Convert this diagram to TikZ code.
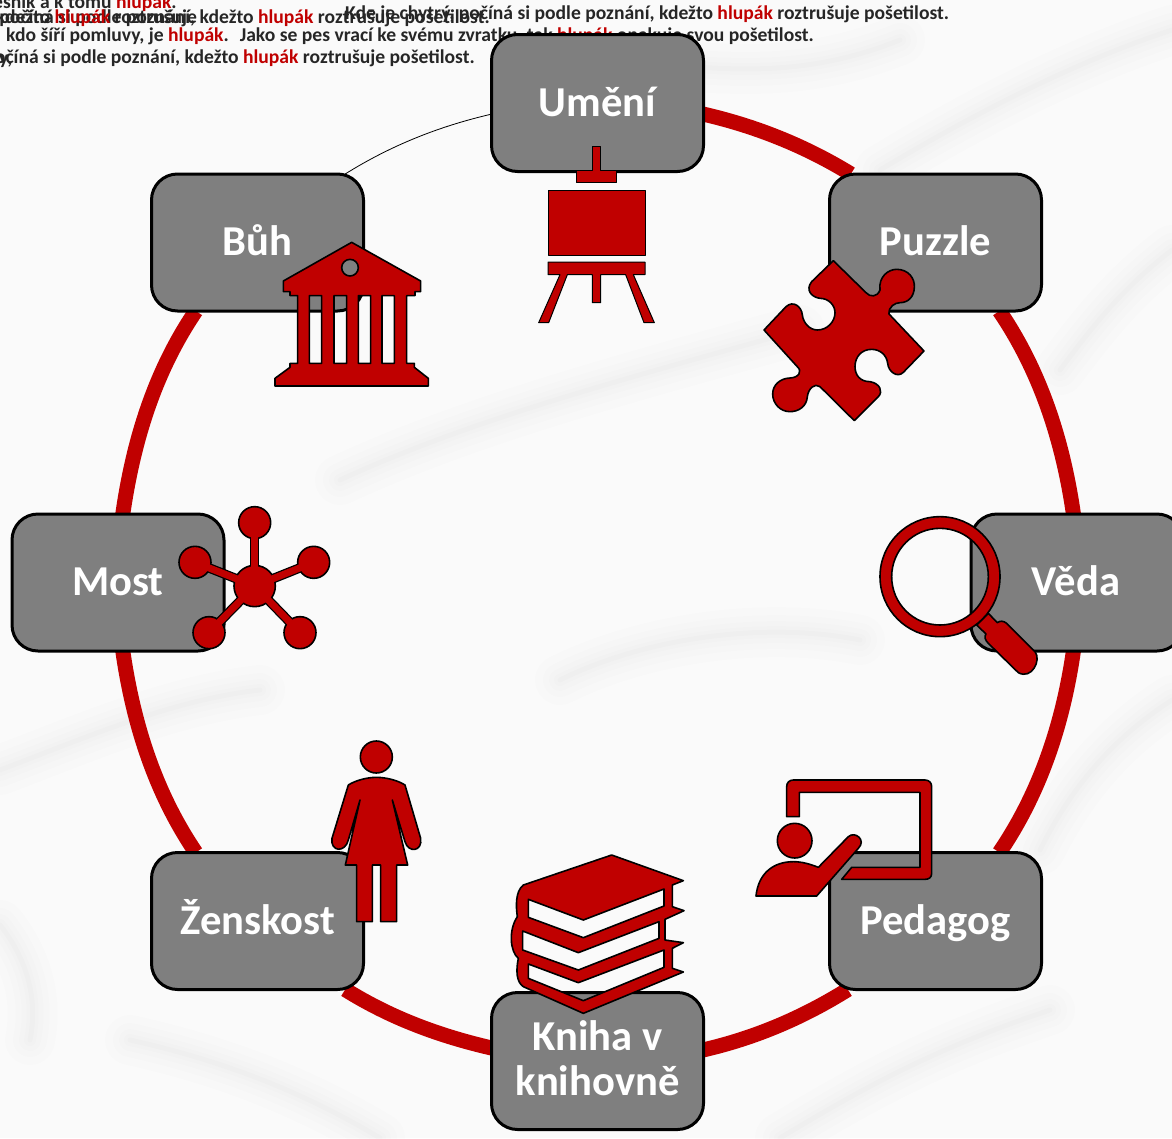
\documentclass[tikz,border=0pt]{standalone}
\usepackage{fontspec}
\setmainfont{Carlito}
\usetikzlibrary{backgrounds}
\definecolor{ruby}{HTML}{C00000}
\definecolor{slab}{HTML}{7F7F7F}
\definecolor{inktext}{HTML}{262626}
\tikzset{
  tile/.style={draw=black,fill=slab,line width=3pt,rounded corners=26pt,minimum width=212pt,minimum height=137pt,inner sep=0pt,outer sep=0pt,align=center,text=white,text height=30pt,text depth=4pt,font=\fontsize{42.6}{45}\selectfont\bfseries},
  ring/.style={draw=ruby,line width=15pt,looseness=.87},
  thinring/.style={draw=black,line width=.8pt,looseness=.87},
  icon/.style={fill=ruby,draw=black,line width=1.6pt,line join=round},
  verse/.style={inner sep=0pt,text=inktext,font=\fontsize{19.6}{21}\selectfont\bfseries},
  vein/.style={draw=black,line cap=round,line join=round}
}
\newcommand{\red}[1]{\textcolor{ruby}{#1}}
\newcommand{\softvein}[1]{%
  \draw[vein,opacity=.006,line width=50pt] #1;
  \draw[vein,opacity=.007,line width=34pt] #1;
  \draw[vein,opacity=.008,line width=22pt] #1;
  \draw[vein,opacity=.009,line width=12pt] #1;
  \draw[vein,opacity=.010,line width=5pt] #1;
}
\begin{document}
\begin{tikzpicture}[x=1pt,y=-1pt]
\useasboundingbox (0,0) rectangle (1172,1138);
\clip (0,0) rectangle (1172,1138);

\node[tile] (umeni) at (597.5,103) {Umění};
\node[tile] (puzzle) at (935.5,242.5) {Puzzle};
\node[tile] (veda) at (1077,582.5) {\hspace*{-2pt}Věda};
\node[tile] (pedagog) at (935.5,921) {Pedagog};
\node[tile,text height=72pt] (kniha) at (597.5,1061) {Kniha v\\knihovně};
\node[tile] (zenskost) at (257.5,921) {Ženskost};
\node[tile] (most) at (118,582.5) {Most};
\node[tile] (buh) at (257.5,242.5) {Bůh};

\begin{scope}[on background layer]
  \clip (0,0) rectangle (1172,1138);
  \fill[black!2] (0,0) rectangle (1172,1138);
  \softvein{(1172,30) .. controls (1080,60) and (980,110) .. (880,170)}
  \softvein{(1172,250) .. controls (1120,290) and (1090,330) .. (1060,370)}
  \softvein{(340,480) .. controls (470,420) and (620,380) .. (800,330)}
  \softvein{(0,770) .. controls (80,740) and (170,700) .. (260,690)}
  \softvein{(0,925) .. controls (20,950) and (40,990) .. (30,1040)}
  \softvein{(1172,700) .. controls (1110,740) and (1070,790) .. (1040,850)}
  \softvein{(780,1138) .. controls (860,1090) and (930,1050) .. (1050,1010)}
  \softvein{(620,60) .. controls (720,70) and (800,80) .. (900,40)}
  \softvein{(130,1040) .. controls (220,1060) and (300,1090) .. (380,1138)}
  \softvein{(560,680) .. controls (640,640) and (760,620) .. (860,640)}

  \node[verse,anchor=west] (t0) at (-7,3) {esník a k tomu \red{hlupák}.};
  \node[verse,anchor=east] (t1) at (490,18) {počíná si podle poznání, kdežto \red{hlupák} roztrušuje pošetilost.};
  \node[verse,anchor=west] (t2) at (-4,18) {kdežto \red{hlupák} roztrušuje};
  \node[verse,anchor=west] (t3) at (345,14) {Kde je chytrý, počíná si podle poznání, kdežto \red{hlupák} roztrušuje pošetilost.};
  \node[verse,anchor=west] (t4) at (6,36) {kdo šíří pomluvy, je \red{hlupák}.\hspace{11pt}Jako se pes vrací ke svému zvratku, tak \red{hlupák} opakuje svou pošetilost.};
  \node[verse,anchor=east] (t5) at (475,58) {počíná si podle poznání, kdežto \red{hlupák} roztrušuje pošetilost.};
  \node[verse,anchor=west] (t6) at (-1,61) {y,};

  \draw[ring] (umeni.-6.5) to[out=-13,in=148.5] (puzzle.141.5);
  \draw[ring] (puzzle.-47.9) to[out=-55.8,in=98.2] (veda.93.4);
  \draw[ring] (veda.-93.4) to[out=-98.2,in=55.8] (pedagog.47.9);
  \draw[ring] (pedagog.218.5) to[out=-148,in=13] (kniha.6.5);
  \draw[ring] (kniha.173.5) to[out=167,in=-32] (zenskost.-38.5);
  \draw[ring] (zenskost.132.1) to[out=124.2,in=-81.8] (most.-86.6);
  \draw[ring] (most.86.6) to[out=81.8,in=-124.2] (buh.-132.1);
  \draw[thinring] (buh.38.5) to[out=32,in=193] (umeni.186.5);
\end{scope}

% easel
\begin{scope}[shift={(260,130)},scale=1/3]
  \path[icon,line width=1pt] (997,48) -- (1022,48) -- (1022,122) -- (1070,122) -- (1070,158) -- (948,158) -- (948,122) -- (997,122) -- cycle;
  \path[icon,line width=1pt] (864,180) rectangle (1155,375);
  \path[icon,line width=1pt] (864,396) -- (1155,396) -- (1155,434) -- (1120,434) -- (1183,578) -- (1152,578) -- (1097,434) -- (1022,434) -- (1022,518) -- (997,518) -- (997,434) -- (922,434) -- (866,578) -- (836,578) -- (900,434) -- (864,434) -- cycle;
  % temple
  \path[icon,even odd rule] (275,337) -- (482,453) -- (482,485) -- (465,485) -- (465,497) -- (440,497) -- (440,700) -- (463,700) -- (463,712) -- (505,745) -- (505,768) -- (45,768) -- (45,745) -- (90,712) -- (90,700) -- (113,700) -- (113,497) -- (90,497) -- (90,485) -- (70,485) -- (70,453) -- cycle
    (270,413) circle (25)
    (148,497) rectangle (185,700)
    (222,497) rectangle (260,700)
    (295,497) rectangle (332,700)
    (366,497) rectangle (403,700);
\end{scope}

% puzzle piece
\begin{scope}[shift={(740,240)},scale=1/3]
  \path[icon] (280,62) -- (378,158) .. controls (390,172) and (412,172) .. (420,150)
    .. controls (415,110) and (445,88) .. (470,88) .. controls (505,88) and (525,115) .. (523,142)
    .. controls (522,170) and (505,188) .. (480,188) .. controls (465,188) and (445,200) .. (447,222)
    -- (552,333) -- (490,397) .. controls (472,415) and (445,395) .. (443,370)
    .. controls (440,345) and (420,328) .. (395,328) .. controls (365,328) and (345,350) .. (345,380)
    .. controls (345,405) and (360,425) .. (390,425) .. controls (420,430) and (430,455) .. (415,470)
    -- (343,542) -- (240,440) .. controls (225,428) and (205,445) .. (202,470)
    .. controls (200,500) and (175,515) .. (150,515) .. controls (120,515) and (98,490) .. (98,462)
    .. controls (98,435) and (120,415) .. (150,414) .. controls (175,413) and (190,395) .. (170,378)
    -- (72,270) -- (138,200) .. controls (160,180) and (185,200) .. (187,225)
    .. controls (190,250) and (210,270) .. (232,270) .. controls (262,270) and (285,245) .. (285,218)
    .. controls (285,195) and (265,175) .. (240,175) .. controls (215,172) and (195,150) .. (215,125) -- cycle;
\end{scope}

% magnifier
\begin{scope}[shift={(860,500)},scale=1/3]
  \path[icon] (385,340) -- (412,368) .. controls (420,362) and (430,362) .. (440,370) -- (525,455)
    .. controls (545,480) and (515,540) .. (475,518) -- (385,430) .. controls (375,420) and (372,410) .. (378,402) -- (350,375) -- cycle;
  \path[icon,even odd rule] (240,230) circle (180) (240,230) circle (145);
\end{scope}

% network and woman
\begin{scope}[shift={(160,490)},scale=1/3]
  \foreach \px/\py in {284/98,105/217,461/217,147/428,420/428}
    \draw[black,line width=9.5pt] (284,288) -- (\px,\py);
  \foreach \px/\py/\pr in {284/98/48,105/217/48,461/217/48,147/428/48,420/428/48,284/288/62}
    \path[icon] (\px,\py) circle (\pr);
  \foreach \px/\py in {284/98,105/217,461/217,147/428,420/428}
    \draw[ruby,line width=7pt] (284,288) -- (\px,\py);
  \path[icon] (649,801) circle (48);
  \path[icon] (649,862) .. controls (680,862) and (715,872) .. (735,885) -- (782,1045)
    .. controls (788,1085) and (745,1090) .. (735,1055) -- (697,930) -- (743,1125) -- (710,1125) -- (710,1295) -- (662,1295) -- (662,1125) -- (637,1125) -- (637,1295) -- (590,1295) -- (590,1125) -- (556,1125) -- (600,930) -- (565,1050)
    .. controls (555,1090) and (510,1085) .. (516,1045) -- (565,885) .. controls (585,872) and (620,862) .. (649,862) -- cycle;
\end{scope}

% teacher and books
\begin{scope}[shift={(480,760)},scale=1/3]
  \path[icon] (920,170) -- (920,80) .. controls (920,68) and (928,60) .. (940,60) -- (1335,60) .. controls (1347,60) and (1355,68) .. (1355,80) -- (1355,340) .. controls (1355,352) and (1347,358) .. (1335,358) -- (1085,358) -- (1115,322) -- (1320,322) -- (1320,97) -- (958,97) -- (958,170) -- cycle;
  \path[icon] (944,242) circle (52);
  \path[icon] (828,408) .. controls (835,340) and (880,305) .. (940,305) .. controls (965,305) and (990,312) .. (1015,322) -- (1105,230) .. controls (1125,212) and (1160,240) .. (1135,265) -- (1010,408) -- cycle;
  \path[icon,even odd rule] (395,285) -- (610,362) -- (577,375) -- (577,440) -- (612,452) -- (555,478) -- (555,540) -- (610,548) -- (577,565) -- (577,625) -- (610,636) -- (310,760) -- (130,680) .. controls (108,665) and (108,630) .. (115,595) .. controls (90,575) and (85,510) .. (112,470) .. controls (108,440) and (105,395) .. (130,375) -- cycle
    (145,418) -- (310,480) -- (552,387) -- (552,438) -- (310,533) -- (145,472) -- cycle
    (128,513) -- (295,578) -- (537,485) -- (537,535) -- (295,630) -- (128,570) -- cycle
    (145,612) -- (295,668) -- (552,570) -- (552,622) -- (310,722) -- (145,655) -- cycle;
\end{scope}
\end{tikzpicture}
\end{document}
